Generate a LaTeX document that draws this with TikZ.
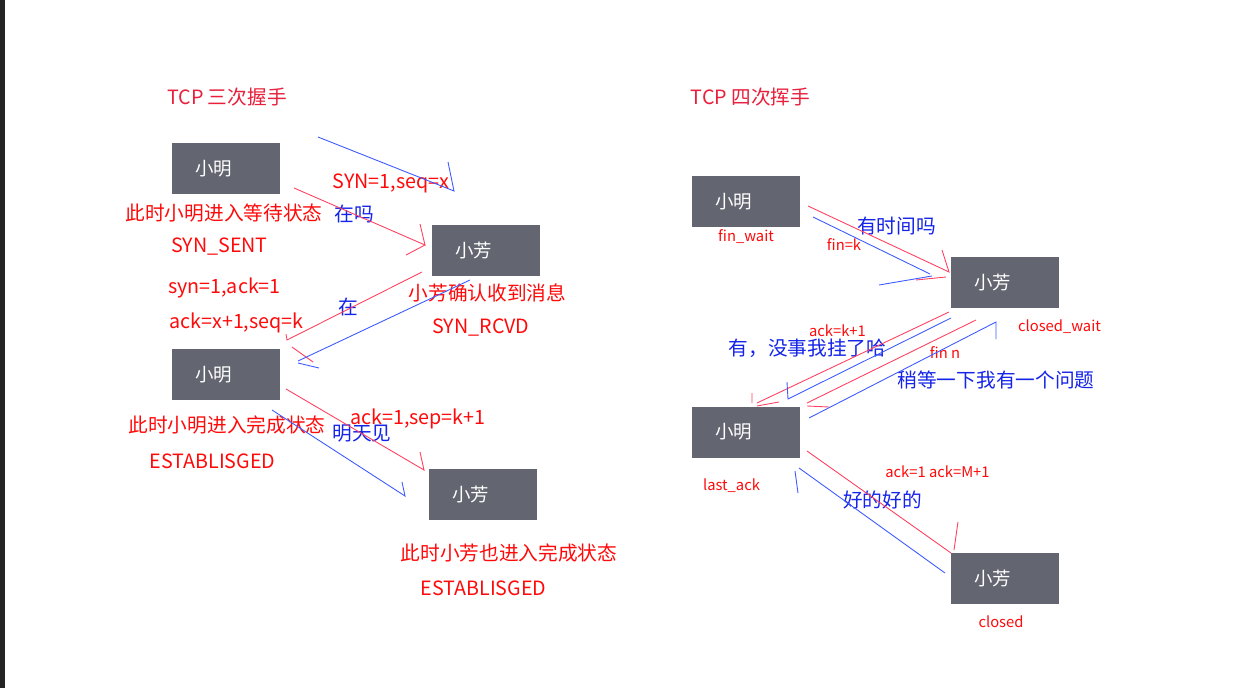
\documentclass[tikz,border=0pt]{standalone}
\usepackage{fontspec}
\setmainfont{Noto Sans CJK SC}
\usetikzlibrary{positioning}
\definecolor{boxgray}{HTML}{636570}
\definecolor{titlered}{HTML}{E8203C}
\definecolor{labred}{HTML}{FF0A0A}
\definecolor{labblue}{HTML}{1424E8}
\definecolor{linered}{HTML}{FF4060}
\definecolor{lineblue}{HTML}{3C5AFF}
\definecolor{frame}{HTML}{242424}

\begin{document}
\begin{tikzpicture}[x=0.2mm, y=-0.2mm,
    box/.style={fill=boxgray, text=white, font=\fontsize{10.5}{12}\selectfont, minimum height=10.2mm, inner xsep=4.7mm, text width=12.2mm, align=left},
    big/.style={font=\fontsize{11.2}{13}\selectfont, inner sep=0pt},
    small/.style={font=\fontsize{8.4}{10}\selectfont, inner sep=0pt},
    rline/.style={draw=linered, line width=0.5pt},
    bline/.style={draw=lineblue, line width=0.5pt}]
  \useasboundingbox (0,0) rectangle (1260,688);
  \fill[white] (0,0) rectangle (1260,688);
  \fill[frame] (0,0) rectangle (5,688);

  % 三次握手
  \node[big, titlered] (title3) at (227,97) {TCP 三次握手};
  \node[box] (xm1) at (226,168.5) {小明};
  \node[box] (xf1) at (485.5,250) {小芳};
  \node[box] (xm2) at (226,374.5) {小明};
  \node[box] (xf2) at (483,494.5) {小芳};

  \node[big, labred] (st1) at (224,213) {此时小明进入等待状态};
  \node[big, labred] (sent) at (219.5,247) {SYN\_SENT};
  \node[big, labred] (syn1) at (391,183) {SYN=1,seq=x};
  \node[big, labblue] (q1) at (354,214) {在吗};
  \node[big, labred] (syn2) at (224.5,288) {syn=1,ack=1};
  \node[big, labred] (ack2) at (236.5,323) {ack=x+1,seq=k};
  \node[big, labblue] (q2) at (348,307) {在};
  \node[big, labred] (st2) at (487.5,293) {小芳确认收到消息};
  \node[big, labred] (rcvd) at (481,328) {SYN\_RCVD};
  \node[big, labred] (st3) at (227,425) {此时小明进入完成状态};
  \node[big, labred] (est1) at (212.5,461) {ESTABLISGED};
  \node[big, labred] (ack3) at (418,419) {ack=1,sep=k+1};
  \node[big, labblue] (q3) at (362,434) {明天见};
  \node[big, labred] (st4) at (509,553) {此时小芳也进入完成状态};
  \node[big, labred] (est2) at (483.5,588) {ESTABLISGED};

  \coordinate (a1s) at (318,137); \coordinate (a1e) at (454,191);
  \coordinate (a2s) at (294,188); \coordinate (a2e) at (425,245);
  \coordinate (a3s) at (422,272); \coordinate (a3e) at (287,340);
  \coordinate (a4s) at (470,280); \coordinate (a4e) at (298,361);
  \coordinate (a5s) at (286,389); \coordinate (a5e) at (424,470);
  \coordinate (a6s) at (272,410); \coordinate (a6e) at (405,496);
  \draw[bline] (a1s) -- (a1e) -- +(-6,-29);
  \draw[rline] (a2s) -- (a2e) -- +(-5,-21) (a2e) -- +(-19,10);
  \draw[rline] (a3s) -- (a3e) -- +(-1,-6) (a3e) ++(5,7) -- ++(21,15);
  \draw[bline] (a4s) -- (a4e) (a4e) ++(0,2) -- ++(21,5);
  \draw[rline] (a5s) -- (a5e) -- +(-4,-18);
  \draw[bline] (a6s) -- (a6e) -- +(-3,-14);

  % 四次挥手
  \node[big, titlered] (title4) at (750.5,97) {TCP 四次挥手};
  \node[box] (xm3) at (746,201.5) {小明};
  \node[box] (xf3) at (1005,282.5) {小芳};
  \node[box] (xm4) at (746,432) {小明};
  \node[box] (xf4) at (1005,578) {小芳};

  \node[small, labred] (fw) at (746,237) {fin\_wait};
  \node[big, labblue] (q4) at (896.5,226) {有时间吗};
  \node[small, labred] (fin1) at (844,245) {fin=k};
  \node[small, labred] (cw) at (1059.5,327) {closed\_wait};
  \node[small, labred] (ack4) at (837.5,331) {ack=k+1};
  \node[big, labblue] (q5) at (807.5,348) {有，没事我挂了哈};
  \node[small, labred] (fin2) at (945,353) {fin n};
  \node[big, labblue] (q6) at (996,380) {稍等一下我有一个问题};
  \node[small, labred] (la) at (731.5,486) {last\_ack};
  \node[small, labred] (ack5) at (937.5,472) {ack=1 ack=M+1};
  \node[big, labblue] (q7) at (882.5,500) {好的好的};
  \node[small, labred] (cl) at (1001,622) {closed};

  \coordinate (b1s) at (808,206); \coordinate (b1e) at (949,272);
  \coordinate (b2s) at (813,217); \coordinate (b2e) at (930,274);
  \coordinate (b3s) at (949,312); \coordinate (b3e) at (757,403);
  \coordinate (b4s) at (951,318); \coordinate (b4e) at (788,399);
  \coordinate (b5s) at (976,320); \coordinate (b5e) at (807,403);
  \coordinate (b6s) at (809,418); \coordinate (b6e) at (996,322);
  \coordinate (b7s) at (807,451); \coordinate (b7e) at (951,553);
  \coordinate (b8s) at (945,573); \coordinate (b8e) at (799,468);
  \draw[rline] (b1s) -- (b1e) -- +(-7,-22) (b1e) ++(-3,5) -- ++(-30,3);
  \draw[bline] (b2s) -- (b2e) (b2e) ++(2,2) -- ++(-53,9);
  \draw[rline] (b3s) -- (b3e) (b3e) ++(-5,-10) -- ++(0,10) (b3e) ++(0,3) -- ++(22,-4);
  \draw[bline] (b4s) -- (b4e) -- +(-1,-17);
  \draw[rline] (b5s) -- (b5e) (b5e) ++(0,3) -- ++(22,1);
  \draw[bline] (b6s) -- (b6e) -- +(0,17);
  \draw[rline] (b7s) -- (b7e) (b7e) ++(3,-3) -- ++(4,-28);
  \draw[bline] (b8s) -- (b8e) (b8e) ++(-4,3) -- ++(3,22);
\end{tikzpicture}
\end{document}
